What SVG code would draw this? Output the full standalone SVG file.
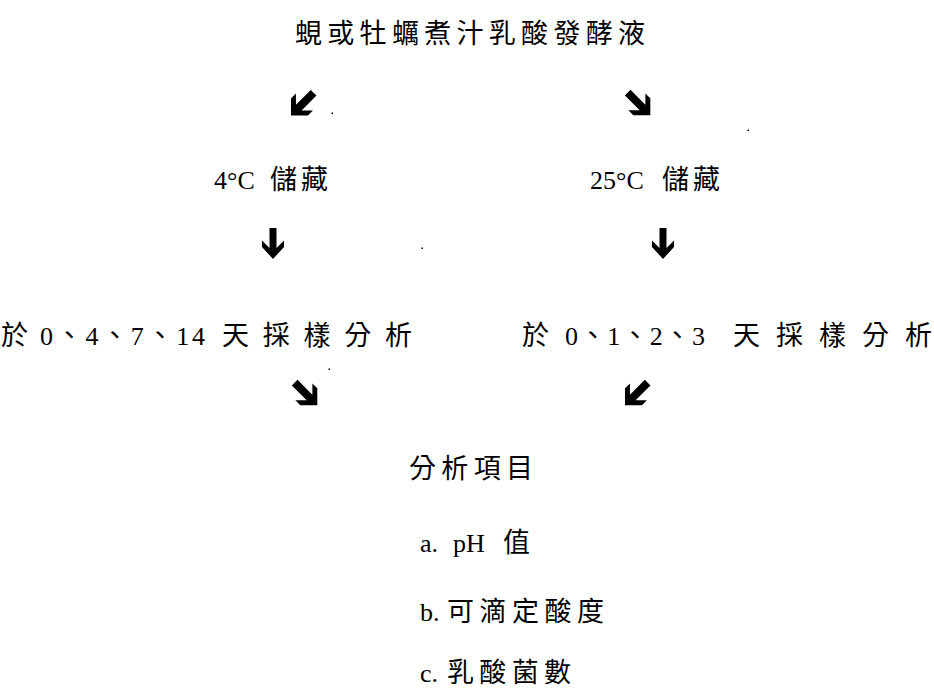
<svg xmlns="http://www.w3.org/2000/svg" width="934" height="699" viewBox="0 0 934 699">
  <style>
    text { font-family: "Liberation Serif", "Noto Sans CJK TC", serif; font-size: 26px; fill: #000; }
    .cjk { font-family: "Noto Sans CJK TC", "Liberation Serif", sans-serif; font-size: 27px; }
    .arrow { fill: #000; }
  </style>
  <defs>
    <!-- straight arrow, drawn from its top-centre -->
    <polygon id="arrowDown" class="arrow" points="-3.5,0 3.5,0 3.5,20 11,12.5 11,19 0,31 -11,19 -11,12.5 -3.5,20"/>
    <!-- heavy arrow for the diagonal steps, drawn about its centre -->
    <polygon id="arrowHeavy" class="arrow" points="-4,-16 4,-16 4,5 12,-3 12,4 0,16 -12,4 -12,-3 -4,5"/>
  </defs>

  <g id="source">
    <text x="295" y="43" class="cjk" textLength="350" lengthAdjust="spacing">蜆或牡蠣煮汁乳酸發酵液</text>
  </g>

  <g id="store4">
    <text x="214" y="189">4°C</text>
    <text x="270" y="189" class="cjk" textLength="58" lengthAdjust="spacing">儲藏</text>
  </g>

  <g id="store25">
    <text x="590" y="189">25°C</text>
    <text x="662" y="189" class="cjk" textLength="58" lengthAdjust="spacing">儲藏</text>
  </g>

  <g id="sample4">
    <text x="1" y="345" class="cjk">於</text>
    <text x="40" y="345" textLength="165" lengthAdjust="spacing">0<tspan class="cjk">、</tspan>4<tspan class="cjk">、</tspan>7<tspan class="cjk">、</tspan>14</text>
    <text x="222" y="345" class="cjk" textLength="190" lengthAdjust="spacing">天採樣分析</text>
  </g>

  <g id="sample25">
    <text x="522" y="345" class="cjk">於</text>
    <text x="565" y="345" textLength="140" lengthAdjust="spacing">0<tspan class="cjk">、</tspan>1<tspan class="cjk">、</tspan>2<tspan class="cjk">、</tspan>3</text>
    <text x="733" y="345" class="cjk" textLength="199" lengthAdjust="spacing">天採樣分析</text>
  </g>

  <g id="items">
    <text x="409" y="478" class="cjk" textLength="124" lengthAdjust="spacing">分析項目</text>
    <text x="420" y="552">a.</text>
    <text x="453" y="552">pH</text>
    <text x="503" y="552" class="cjk">值</text>
    <text x="420" y="621">b.</text>
    <text x="447" y="621" class="cjk" textLength="157" lengthAdjust="spacing">可滴定酸度</text>
    <text x="420" y="682">c.</text>
    <text x="447" y="682" class="cjk" textLength="124" lengthAdjust="spacing">乳酸菌數</text>
  </g>

  <g id="connectors">
    <use href="#arrowHeavy" transform="translate(302.3,104.1) rotate(45)"/>
    <use href="#arrowHeavy" transform="translate(639,104) rotate(-45)"/>
    <use href="#arrowDown" transform="translate(273,228)"/>
    <use href="#arrowDown" transform="translate(663,228)"/>
    <use href="#arrowHeavy" transform="translate(306,394) rotate(-45)"/>
    <use href="#arrowHeavy" transform="translate(636.3,394) rotate(45)"/>
  </g>

  <!-- small specks -->
  <g id="specks" fill="#000">
    <rect x="331.5" y="112.5" width="1.5" height="1.5"/>
    <rect x="747.5" y="129.5" width="1.5" height="1.5"/>
    <rect x="421.5" y="247.5" width="1.5" height="1.5"/>
    <rect x="328.5" y="368.5" width="1.5" height="1.5"/>
  </g>
</svg>
